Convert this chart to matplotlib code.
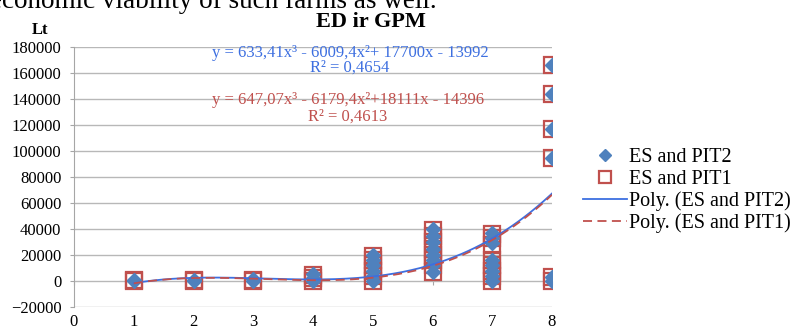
import matplotlib
matplotlib.use('agg')
import matplotlib.pyplot as plt
import numpy as np

# scatter data (x = group, y = Lt)
pit2_x = [1, 1, 2, 2, 3, 3, 4, 4, 4,
          5, 5, 5, 5, 5, 5,
          6, 6, 6, 6, 6, 6, 6, 6,
          7, 7, 7, 7, 7, 7, 7, 7,
          8, 8, 8, 8, 8, 8]
pit2_y = [0, 800, 0, 1000, 0, 1200, 0, 2500, 5500,
          0, 4000, 8000, 12000, 16000, 20000,
          7000, 12000, 16000, 20000, 25000, 30000, 35000, 40000,
          0, 4000, 8000, 12000, 16000, 29000, 33000, 37000,
          0, 3000, 95000, 117000, 144000, 166000]
pit1_x = list(pit2_x)
pit1_y = [0, 500, 0, 900, 0, 1000, 0, 2500, 5000,
          0, 4000, 8000, 12000, 16000, 19500,
          7000, 12000, 16000, 20000, 25000, 30000, 35000, 39000,
          0, 4000, 8000, 12000, 16000, 28000, 33000, 36000,
          0, 3000, 95000, 117000, 144000, 166000]

# trend line coefficients as printed on the chart (x^3, x^2, x, 1)
coef_pit2 = [633.41, -6009.4, 17700, -13992]
coef_pit1 = [647.07, -6179.4, 18111, -14396]

y_ticks = [-20000, 0, 20000, 40000, 60000, 80000, 100000, 120000, 140000, 160000, 180000]
x_ticks = [0, 1, 2, 3, 4, 5, 6, 7, 8]

blue = '#4f81bd'
line_blue = '#3d6fe0'
red = '#c0504d'
serif = 'Liberation Serif'

fig = plt.figure(figsize=(7.94, 3.29), dpi=100)
ax = fig.add_axes([74 / 794, 1 - 307 / 329, (552 - 74) / 794, (307 - 47) / 329])

sq, = ax.plot(pit1_x, pit1_y, linestyle='none', marker='s', markersize=12,
              markerfacecolor='none', markeredgecolor=red, markeredgewidth=1.6,
              label='ES and PIT1', zorder=3)
dm, = ax.plot(pit2_x, pit2_y, linestyle='none', marker='D', markersize=7.5,
              markerfacecolor=blue, markeredgecolor=blue, label='ES and PIT2', zorder=4)

xs = np.linspace(1, 8, 200)
l2, = ax.plot(xs, np.polyval(coef_pit2, xs), color=line_blue, lw=1.3,
              label='Poly. (ES and PIT2)', zorder=5)
l1, = ax.plot(xs, np.polyval(coef_pit1, xs), color=red, lw=1.3, ls=(0, (5, 3)),
              label='Poly. (ES and PIT1)', zorder=5)

ax.set_xlim(0, 8)
ax.set_ylim(-20000, 180000)
ax.set_yticks(y_ticks)
ax.set_xticks(x_ticks)
ax.yaxis.grid(True, color='#b8b8b8', lw=1)
ax.set_axisbelow(True)
for s in ['top', 'right', 'bottom']:
    ax.spines[s].set_visible(False)
ax.spines['left'].set_color('#a6a6a6')
ax.tick_params(axis='y', length=3, color='#a6a6a6', pad=6, labelsize=12)
ax.tick_params(axis='x', length=0, pad=5, labelsize=12)
for lab in ax.get_xticklabels() + ax.get_yticklabels():
    lab.set_fontfamily(serif)

# small ticks on the zero line
sec = ax.secondary_xaxis(0.1)
sec.set_xticks(x_ticks)
sec.tick_params(length=3, color='#a6a6a6', labelbottom=False)
sec.spines['bottom'].set_visible(False)

# trend line equations
fig.text(350 / 794, 1 - 53 / 329, 'y = 633,41x³ - 6009,4x²+ 17700x - 13992', color=line_blue,
         fontsize=12, family=serif, ha='center', va='center')
fig.text(350 / 794, 1 - 68 / 329, 'R² = 0,4654', color=line_blue, fontsize=12,
         family=serif, ha='center', va='center')
fig.text(348 / 794, 1 - 100 / 329, 'y = 647,07x³ - 6179,4x²+18111x - 14396', color=red,
         fontsize=12, family=serif, ha='center', va='center')
fig.text(348 / 794, 1 - 117 / 329, 'R² = 0,4613', color=red, fontsize=12,
         family=serif, ha='center', va='center')

# title, axis unit, cropped page text
fig.text(371 / 794, 1 - 22 / 329, 'ED ir GPM', fontsize=16, fontweight='bold',
         family=serif, ha='center', va='center')
fig.text(40 / 794, 1 - 30 / 329, 'Lt', fontsize=12, fontweight='bold',
         family=serif, ha='center', va='center')
fig.text(437 / 794, 1 - 8 / 329, 'economic viability of such farms as well.', fontsize=19.5,
         family=serif, ha='right', va='baseline')

leg = fig.legend(handles=[dm, sq, l2, l1], loc='upper left',
                 bbox_to_anchor=(575 / 794, 1 - 140 / 329), frameon=False,
                 prop={'family': serif, 'size': 14.5}, handlelength=2.2, markerscale=0.75,
                 handletextpad=0.1, labelspacing=0.12, borderaxespad=0)

fig.savefig('out.png', dpi=100)
